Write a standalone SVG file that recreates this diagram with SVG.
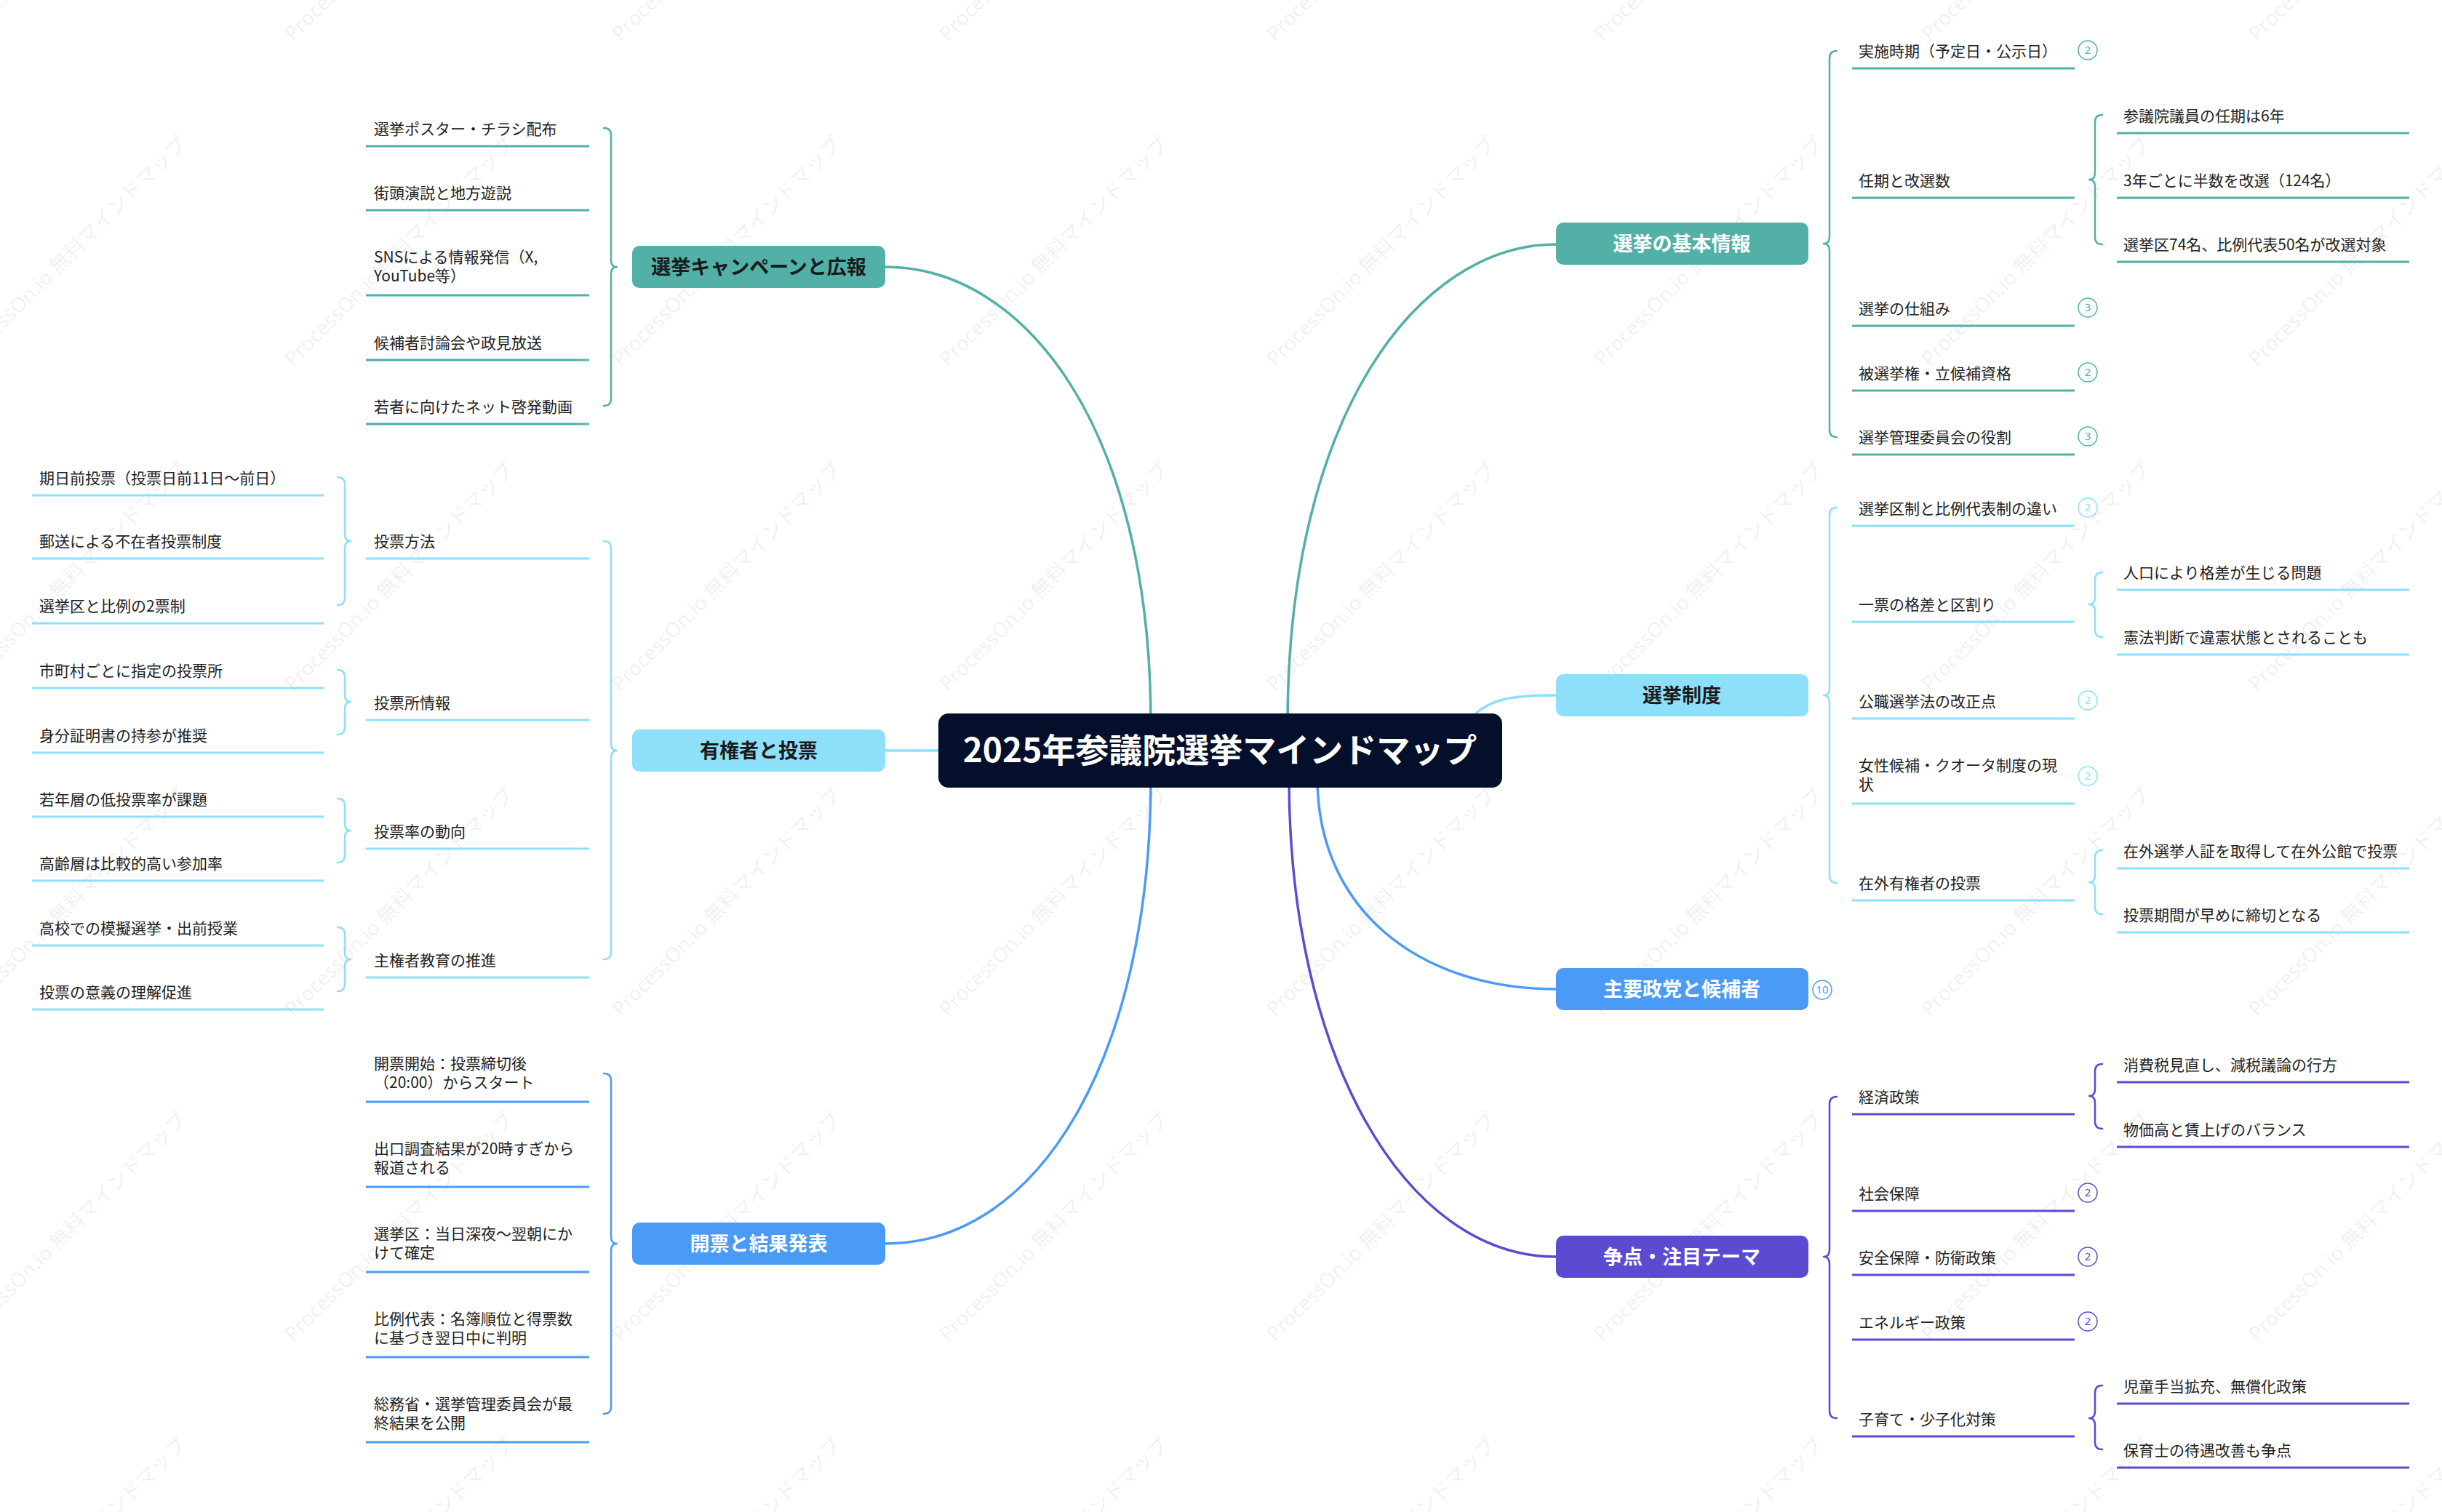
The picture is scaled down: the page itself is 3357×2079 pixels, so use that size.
<svg xmlns="http://www.w3.org/2000/svg" width="3357" height="2079" viewBox="0 0 3357 2079">
<style>
.t{font-family:"Noto Sans CJK JP","Noto Sans",sans-serif;font-size:21px;fill:#222}
.nt{font-family:"Noto Sans CJK JP","Noto Sans",sans-serif;font-size:27px;font-weight:700;text-anchor:middle}
.w{fill:#fff}.d{fill:#1a1a1a}
.wm{font-family:"Noto Sans","Noto Sans CJK JP",sans-serif;font-size:28px;fill:#888;fill-opacity:0.12}
.con{fill:none;stroke-width:3.5;stroke-linecap:round}
.br{fill:none;stroke-width:2.5;stroke-linecap:round;stroke-linejoin:round}
.ul{stroke-width:3}
.teal{stroke:#52B0A7}.lb{stroke:#8DDFFA}.bl{stroke:#4A9BF6}.pu{stroke:#5A4BD1}
.bd{fill:#fff;stroke-width:1.5}
.bn{font-family:"Noto Sans","Noto Sans CJK JP",sans-serif;font-size:15px;text-anchor:middle}
</style>
<rect x="0" y="0" width="3357" height="2079" fill="#fff"/>
<g id="watermark">
<text class="wm" x="-47" y="58" transform="rotate(-45 -47 58)">ProcessOn.io 無料マインドマップ</text>
<text class="wm" x="403" y="58" transform="rotate(-45 403 58)">ProcessOn.io 無料マインドマップ</text>
<text class="wm" x="853" y="58" transform="rotate(-45 853 58)">ProcessOn.io 無料マインドマップ</text>
<text class="wm" x="1303" y="58" transform="rotate(-45 1303 58)">ProcessOn.io 無料マインドマップ</text>
<text class="wm" x="1753" y="58" transform="rotate(-45 1753 58)">ProcessOn.io 無料マインドマップ</text>
<text class="wm" x="2203" y="58" transform="rotate(-45 2203 58)">ProcessOn.io 無料マインドマップ</text>
<text class="wm" x="2653" y="58" transform="rotate(-45 2653 58)">ProcessOn.io 無料マインドマップ</text>
<text class="wm" x="3103" y="58" transform="rotate(-45 3103 58)">ProcessOn.io 無料マインドマップ</text>
<text class="wm" x="-47" y="505" transform="rotate(-45 -47 505)">ProcessOn.io 無料マインドマップ</text>
<text class="wm" x="403" y="505" transform="rotate(-45 403 505)">ProcessOn.io 無料マインドマップ</text>
<text class="wm" x="853" y="505" transform="rotate(-45 853 505)">ProcessOn.io 無料マインドマップ</text>
<text class="wm" x="1303" y="505" transform="rotate(-45 1303 505)">ProcessOn.io 無料マインドマップ</text>
<text class="wm" x="1753" y="505" transform="rotate(-45 1753 505)">ProcessOn.io 無料マインドマップ</text>
<text class="wm" x="2203" y="505" transform="rotate(-45 2203 505)">ProcessOn.io 無料マインドマップ</text>
<text class="wm" x="2653" y="505" transform="rotate(-45 2653 505)">ProcessOn.io 無料マインドマップ</text>
<text class="wm" x="3103" y="505" transform="rotate(-45 3103 505)">ProcessOn.io 無料マインドマップ</text>
<text class="wm" x="-47" y="952" transform="rotate(-45 -47 952)">ProcessOn.io 無料マインドマップ</text>
<text class="wm" x="403" y="952" transform="rotate(-45 403 952)">ProcessOn.io 無料マインドマップ</text>
<text class="wm" x="853" y="952" transform="rotate(-45 853 952)">ProcessOn.io 無料マインドマップ</text>
<text class="wm" x="1303" y="952" transform="rotate(-45 1303 952)">ProcessOn.io 無料マインドマップ</text>
<text class="wm" x="1753" y="952" transform="rotate(-45 1753 952)">ProcessOn.io 無料マインドマップ</text>
<text class="wm" x="2203" y="952" transform="rotate(-45 2203 952)">ProcessOn.io 無料マインドマップ</text>
<text class="wm" x="2653" y="952" transform="rotate(-45 2653 952)">ProcessOn.io 無料マインドマップ</text>
<text class="wm" x="3103" y="952" transform="rotate(-45 3103 952)">ProcessOn.io 無料マインドマップ</text>
<text class="wm" x="-47" y="1399" transform="rotate(-45 -47 1399)">ProcessOn.io 無料マインドマップ</text>
<text class="wm" x="403" y="1399" transform="rotate(-45 403 1399)">ProcessOn.io 無料マインドマップ</text>
<text class="wm" x="853" y="1399" transform="rotate(-45 853 1399)">ProcessOn.io 無料マインドマップ</text>
<text class="wm" x="1303" y="1399" transform="rotate(-45 1303 1399)">ProcessOn.io 無料マインドマップ</text>
<text class="wm" x="1753" y="1399" transform="rotate(-45 1753 1399)">ProcessOn.io 無料マインドマップ</text>
<text class="wm" x="2203" y="1399" transform="rotate(-45 2203 1399)">ProcessOn.io 無料マインドマップ</text>
<text class="wm" x="2653" y="1399" transform="rotate(-45 2653 1399)">ProcessOn.io 無料マインドマップ</text>
<text class="wm" x="3103" y="1399" transform="rotate(-45 3103 1399)">ProcessOn.io 無料マインドマップ</text>
<text class="wm" x="-47" y="1846" transform="rotate(-45 -47 1846)">ProcessOn.io 無料マインドマップ</text>
<text class="wm" x="403" y="1846" transform="rotate(-45 403 1846)">ProcessOn.io 無料マインドマップ</text>
<text class="wm" x="853" y="1846" transform="rotate(-45 853 1846)">ProcessOn.io 無料マインドマップ</text>
<text class="wm" x="1303" y="1846" transform="rotate(-45 1303 1846)">ProcessOn.io 無料マインドマップ</text>
<text class="wm" x="1753" y="1846" transform="rotate(-45 1753 1846)">ProcessOn.io 無料マインドマップ</text>
<text class="wm" x="2203" y="1846" transform="rotate(-45 2203 1846)">ProcessOn.io 無料マインドマップ</text>
<text class="wm" x="2653" y="1846" transform="rotate(-45 2653 1846)">ProcessOn.io 無料マインドマップ</text>
<text class="wm" x="3103" y="1846" transform="rotate(-45 3103 1846)">ProcessOn.io 無料マインドマップ</text>
<text class="wm" x="-47" y="2293" transform="rotate(-45 -47 2293)">ProcessOn.io 無料マインドマップ</text>
<text class="wm" x="403" y="2293" transform="rotate(-45 403 2293)">ProcessOn.io 無料マインドマップ</text>
<text class="wm" x="853" y="2293" transform="rotate(-45 853 2293)">ProcessOn.io 無料マインドマップ</text>
<text class="wm" x="1303" y="2293" transform="rotate(-45 1303 2293)">ProcessOn.io 無料マインドマップ</text>
<text class="wm" x="1753" y="2293" transform="rotate(-45 1753 2293)">ProcessOn.io 無料マインドマップ</text>
<text class="wm" x="2203" y="2293" transform="rotate(-45 2203 2293)">ProcessOn.io 無料マインドマップ</text>
<text class="wm" x="2653" y="2293" transform="rotate(-45 2653 2293)">ProcessOn.io 無料マインドマップ</text>
<text class="wm" x="3103" y="2293" transform="rotate(-45 3103 2293)">ProcessOn.io 無料マインドマップ</text>
</g>
<g id="connectors">
<path class="con teal" d="M 1217 367 C 1410 367, 1582 590, 1582 995"/>
<path class="con lb" d="M 1217 1032 L 1300 1032"/>
<path class="con bl" d="M 1217 1710 C 1430 1710, 1582 1450, 1582 1070"/>
<path class="con teal" d="M 2139 336 C 1950 336, 1770 570, 1770 995"/>
<path class="con lb" d="M 2139 956 C 2080 956, 2045 960, 2020 990"/>
<path class="con bl" d="M 2139 1360 C 1950 1360, 1811 1250, 1811 1070"/>
<path class="con pu" d="M 2139 1728 C 1930 1728, 1772 1450, 1772 1070"/>
<path class="br teal" d="M 2525 70 Q 2515 70 2515 80 L 2515 325 Q 2515 335 2507 335 Q 2515 335 2515 345 L 2515 591 Q 2515 601 2525 601"/>
<path class="br lb" d="M 2525 698 Q 2515 698 2515 708 L 2515 946 Q 2515 956 2507 956 Q 2515 956 2515 966 L 2515 1204 Q 2515 1214 2525 1214"/>
<path class="br pu" d="M 2525 1508 Q 2515 1508 2515 1518 L 2515 1718 Q 2515 1728 2507 1728 Q 2515 1728 2515 1738 L 2515 1940 Q 2515 1950 2525 1950"/>
<path class="br teal" d="M 2890 158 Q 2880 158 2880 168 L 2880 237 Q 2880 247 2872 247 Q 2880 247 2880 257 L 2880 326 Q 2880 336 2890 336"/>
<path class="br lb" d="M 2890 787 Q 2880 787 2880 797 L 2880 821 Q 2880 831 2872 831 Q 2880 831 2880 841 L 2880 866 Q 2880 876 2890 876"/>
<path class="br lb" d="M 2890 1169 Q 2880 1169 2880 1179 L 2880 1203 Q 2880 1213 2872 1213 Q 2880 1213 2880 1223 L 2880 1247 Q 2880 1257 2890 1257"/>
<path class="br pu" d="M 2890 1463 Q 2880 1463 2880 1473 L 2880 1497 Q 2880 1507 2872 1507 Q 2880 1507 2880 1517 L 2880 1542 Q 2880 1552 2890 1552"/>
<path class="br pu" d="M 2890 1905 Q 2880 1905 2880 1915 L 2880 1940 Q 2880 1950 2872 1950 Q 2880 1950 2880 1960 L 2880 1983 Q 2880 1993 2890 1993"/>
<path class="br teal" d="M 830 176 Q 840 176 840 186 L 840 357 Q 840 367 848 367 Q 840 367 840 377 L 840 548 Q 840 558 830 558"/>
<path class="br lb" d="M 830 744 Q 840 744 840 754 L 840 1022 Q 840 1032 848 1032 Q 840 1032 840 1042 L 840 1309 Q 840 1319 830 1319"/>
<path class="br bl" d="M 830 1476 Q 840 1476 840 1486 L 840 1700 Q 840 1710 848 1710 Q 840 1710 840 1720 L 840 1934 Q 840 1944 830 1944"/>
<path class="br lb" d="M 464 656 Q 474 656 474 666 L 474 734 Q 474 744 482 744 Q 474 744 474 754 L 474 822 Q 474 832 464 832"/>
<path class="br lb" d="M 464 921 Q 474 921 474 931 L 474 955 Q 474 965 482 965 Q 474 965 474 975 L 474 1000 Q 474 1010 464 1010"/>
<path class="br lb" d="M 464 1098 Q 474 1098 474 1108 L 474 1132 Q 474 1142 482 1142 Q 474 1142 474 1152 L 474 1176 Q 474 1186 464 1186"/>
<path class="br lb" d="M 464 1275 Q 474 1275 474 1285 L 474 1309 Q 474 1319 482 1319 Q 474 1319 474 1329 L 474 1353 Q 474 1363 464 1363"/>
</g>
<g id="n-root"><rect x="1290" y="981" width="775" height="102" rx="14" fill="#040F2C"/><text x="1677" y="1048" font-family="'Noto Sans CJK JP','Noto Sans',sans-serif" font-size="46" font-weight="700" fill="#fff" text-anchor="middle">2025年参議院選挙マインドマップ</text></g>
<g id="n-kihon"><rect x="2139" y="306" width="347" height="58" rx="10" fill="#52B0A7"/><text class="nt w" x="2312" y="345">選挙の基本情報</text></g>
<g id="n-kihon-1"><text class="t" x="2555" y="78">実施時期（予定日・公示日）</text><line class="ul teal" x1="2546" y1="94" x2="2852" y2="94"/><circle class="bd teal" cx="2870" cy="69" r="13"/><text class="bn" x="2870" y="74" fill="#52B0A7">2</text></g>
<g id="n-kihon-2"><text class="t" x="2555" y="256">任期と改選数</text><line class="ul teal" x1="2546" y1="272" x2="2852" y2="272"/></g>
<g id="n-kihon-2-1"><text class="t" x="2919" y="167">参議院議員の任期は6年</text><line class="ul teal" x1="2910" y1="183" x2="3312" y2="183"/></g>
<g id="n-kihon-2-2"><text class="t" x="2919" y="256">3年ごとに半数を改選（124名）</text><line class="ul teal" x1="2910" y1="272" x2="3312" y2="272"/></g>
<g id="n-kihon-2-3"><text class="t" x="2919" y="344">選挙区74名、比例代表50名が改選対象</text><line class="ul teal" x1="2910" y1="360" x2="3312" y2="360"/></g>
<g id="n-kihon-3"><text class="t" x="2555" y="432">選挙の仕組み</text><line class="ul teal" x1="2546" y1="448" x2="2852" y2="448"/><circle class="bd teal" cx="2870" cy="423" r="13"/><text class="bn" x="2870" y="428" fill="#52B0A7">3</text></g>
<g id="n-kihon-4"><text class="t" x="2555" y="521">被選挙権・立候補資格</text><line class="ul teal" x1="2546" y1="537" x2="2852" y2="537"/><circle class="bd teal" cx="2870" cy="512" r="13"/><text class="bn" x="2870" y="517" fill="#52B0A7">2</text></g>
<g id="n-kihon-5"><text class="t" x="2555" y="609">選挙管理委員会の役割</text><line class="ul teal" x1="2546" y1="625" x2="2852" y2="625"/><circle class="bd teal" cx="2870" cy="600" r="13"/><text class="bn" x="2870" y="605" fill="#52B0A7">3</text></g>
<g id="n-seido"><rect x="2139" y="927" width="347" height="58" rx="10" fill="#8DDFFA"/><text class="nt d" x="2312" y="966">選挙制度</text></g>
<g id="n-seido-1"><text class="t" x="2555" y="707">選挙区制と比例代表制の違い</text><line class="ul lb" x1="2546" y1="723" x2="2852" y2="723"/><circle class="bd lb" cx="2870" cy="698" r="13"/><text class="bn" x="2870" y="703" fill="#8DDFFA">2</text></g>
<g id="n-seido-2"><text class="t" x="2555" y="839">一票の格差と区割り</text><line class="ul lb" x1="2546" y1="855" x2="2852" y2="855"/></g>
<g id="n-seido-2-1"><text class="t" x="2919" y="795">人口により格差が生じる問題</text><line class="ul lb" x1="2910" y1="811" x2="3312" y2="811"/></g>
<g id="n-seido-2-2"><text class="t" x="2919" y="884">憲法判断で違憲状態とされることも</text><line class="ul lb" x1="2910" y1="900" x2="3312" y2="900"/></g>
<g id="n-seido-3"><text class="t" x="2555" y="972">公職選挙法の改正点</text><line class="ul lb" x1="2546" y1="988" x2="2852" y2="988"/><circle class="bd lb" cx="2870" cy="963" r="13"/><text class="bn" x="2870" y="968" fill="#8DDFFA">2</text></g>
<g id="n-seido-4"><text class="t" x="2555" y="1060">女性候補・クオータ制度の現</text><text class="t" x="2555" y="1086">状</text><line class="ul lb" x1="2546" y1="1105" x2="2852" y2="1105"/><circle class="bd lb" cx="2870" cy="1067" r="13"/><text class="bn" x="2870" y="1072" fill="#8DDFFA">2</text></g>
<g id="n-seido-5"><text class="t" x="2555" y="1222">在外有権者の投票</text><line class="ul lb" x1="2546" y1="1238" x2="2852" y2="1238"/></g>
<g id="n-seido-5-1"><text class="t" x="2919" y="1178">在外選挙人証を取得して在外公館で投票</text><line class="ul lb" x1="2910" y1="1194" x2="3312" y2="1194"/></g>
<g id="n-seido-5-2"><text class="t" x="2919" y="1266">投票期間が早めに締切となる</text><line class="ul lb" x1="2910" y1="1282" x2="3312" y2="1282"/></g>
<g id="n-seito"><rect x="2139" y="1331" width="347" height="58" rx="10" fill="#4A9BF6"/><text class="nt w" x="2312" y="1370">主要政党と候補者</text><circle class="bd bl" cx="2505" cy="1361" r="13"/><text class="bn" x="2505" y="1366" fill="#4A9BF6">10</text></g>
<g id="n-soten"><rect x="2139" y="1699" width="347" height="58" rx="10" fill="#5A4BD1"/><text class="nt w" x="2312" y="1738">争点・注目テーマ</text></g>
<g id="n-soten-1"><text class="t" x="2555" y="1516">経済政策</text><line class="ul pu" x1="2546" y1="1532" x2="2852" y2="1532"/></g>
<g id="n-soten-1-1"><text class="t" x="2919" y="1472">消費税見直し、減税議論の行方</text><line class="ul pu" x1="2910" y1="1488" x2="3312" y2="1488"/></g>
<g id="n-soten-1-2"><text class="t" x="2919" y="1561">物価高と賃上げのバランス</text><line class="ul pu" x1="2910" y1="1577" x2="3312" y2="1577"/></g>
<g id="n-soten-2"><text class="t" x="2555" y="1649">社会保障</text><line class="ul pu" x1="2546" y1="1665" x2="2852" y2="1665"/><circle class="bd pu" cx="2870" cy="1640" r="13"/><text class="bn" x="2870" y="1645" fill="#5A4BD1">2</text></g>
<g id="n-soten-3"><text class="t" x="2555" y="1737">安全保障・防衛政策</text><line class="ul pu" x1="2546" y1="1753" x2="2852" y2="1753"/><circle class="bd pu" cx="2870" cy="1728" r="13"/><text class="bn" x="2870" y="1733" fill="#5A4BD1">2</text></g>
<g id="n-soten-4"><text class="t" x="2555" y="1826">エネルギー政策</text><line class="ul pu" x1="2546" y1="1842" x2="2852" y2="1842"/><circle class="bd pu" cx="2870" cy="1817" r="13"/><text class="bn" x="2870" y="1822" fill="#5A4BD1">2</text></g>
<g id="n-soten-5"><text class="t" x="2555" y="1959">子育て・少子化対策</text><line class="ul pu" x1="2546" y1="1975" x2="2852" y2="1975"/></g>
<g id="n-soten-5-1"><text class="t" x="2919" y="1914">児童手当拡充、無償化政策</text><line class="ul pu" x1="2910" y1="1930" x2="3312" y2="1930"/></g>
<g id="n-soten-5-2"><text class="t" x="2919" y="2002">保育士の待遇改善も争点</text><line class="ul pu" x1="2910" y1="2018" x2="3312" y2="2018"/></g>
<g id="n-camp"><rect x="869" y="338" width="348" height="58" rx="10" fill="#52B0A7"/><text class="nt d" x="1043" y="377">選挙キャンペーンと広報</text></g>
<g id="n-camp-1"><text class="t" x="514" y="185">選挙ポスター・チラシ配布</text><line class="ul teal" x1="503" y1="201" x2="810" y2="201"/></g>
<g id="n-camp-2"><text class="t" x="514" y="273">街頭演説と地方遊説</text><line class="ul teal" x1="503" y1="289" x2="810" y2="289"/></g>
<g id="n-camp-3"><text class="t" x="514" y="361">SNSによる情報発信（X,</text><text class="t" x="514" y="387">YouTube等）</text><line class="ul teal" x1="503" y1="406" x2="810" y2="406"/></g>
<g id="n-camp-4"><text class="t" x="514" y="479">候補者討論会や政見放送</text><line class="ul teal" x1="503" y1="495" x2="810" y2="495"/></g>
<g id="n-camp-5"><text class="t" x="514" y="567">若者に向けたネット啓発動画</text><line class="ul teal" x1="503" y1="583" x2="810" y2="583"/></g>
<g id="n-vote"><rect x="869" y="1003" width="348" height="58" rx="10" fill="#8DDFFA"/><text class="nt d" x="1043" y="1042">有権者と投票</text></g>
<g id="n-vote-1"><text class="t" x="514" y="752">投票方法</text><line class="ul lb" x1="503" y1="768" x2="810" y2="768"/></g>
<g id="n-vote-1-1"><text class="t" x="54" y="665">期日前投票（投票日前11日～前日）</text><line class="ul lb" x1="44" y1="681" x2="445" y2="681"/></g>
<g id="n-vote-1-2"><text class="t" x="54" y="752">郵送による不在者投票制度</text><line class="ul lb" x1="44" y1="768" x2="445" y2="768"/></g>
<g id="n-vote-1-3"><text class="t" x="54" y="841">選挙区と比例の2票制</text><line class="ul lb" x1="44" y1="857" x2="445" y2="857"/></g>
<g id="n-vote-2"><text class="t" x="514" y="974">投票所情報</text><line class="ul lb" x1="503" y1="990" x2="810" y2="990"/></g>
<g id="n-vote-2-1"><text class="t" x="54" y="930">市町村ごとに指定の投票所</text><line class="ul lb" x1="44" y1="946" x2="445" y2="946"/></g>
<g id="n-vote-2-2"><text class="t" x="54" y="1019">身分証明書の持参が推奨</text><line class="ul lb" x1="44" y1="1035" x2="445" y2="1035"/></g>
<g id="n-vote-3"><text class="t" x="514" y="1151">投票率の動向</text><line class="ul lb" x1="503" y1="1167" x2="810" y2="1167"/></g>
<g id="n-vote-3-1"><text class="t" x="54" y="1107">若年層の低投票率が課題</text><line class="ul lb" x1="44" y1="1123" x2="445" y2="1123"/></g>
<g id="n-vote-3-2"><text class="t" x="54" y="1195">高齢層は比較的高い参加率</text><line class="ul lb" x1="44" y1="1211" x2="445" y2="1211"/></g>
<g id="n-vote-4"><text class="t" x="514" y="1328">主権者教育の推進</text><line class="ul lb" x1="503" y1="1344" x2="810" y2="1344"/></g>
<g id="n-vote-4-1"><text class="t" x="54" y="1284">高校での模擬選挙・出前授業</text><line class="ul lb" x1="44" y1="1300" x2="445" y2="1300"/></g>
<g id="n-vote-4-2"><text class="t" x="54" y="1372">投票の意義の理解促進</text><line class="ul lb" x1="44" y1="1388" x2="445" y2="1388"/></g>
<g id="n-count"><rect x="869" y="1681" width="348" height="58" rx="10" fill="#4A9BF6"/><text class="nt w" x="1043" y="1720">開票と結果発表</text></g>
<g id="n-count-1"><text class="t" x="514" y="1470">開票開始：投票締切後</text><text class="t" x="514" y="1496">（20:00）からスタート</text><line class="ul bl" x1="503" y1="1515" x2="810" y2="1515"/></g>
<g id="n-count-2"><text class="t" x="514" y="1587">出口調査結果が20時すぎから</text><text class="t" x="514" y="1613">報道される</text><line class="ul bl" x1="503" y1="1632" x2="810" y2="1632"/></g>
<g id="n-count-3"><text class="t" x="514" y="1704">選挙区：当日深夜～翌朝にか</text><text class="t" x="514" y="1730">けて確定</text><line class="ul bl" x1="503" y1="1749" x2="810" y2="1749"/></g>
<g id="n-count-4"><text class="t" x="514" y="1821">比例代表：名簿順位と得票数</text><text class="t" x="514" y="1847">に基づき翌日中に判明</text><line class="ul bl" x1="503" y1="1866" x2="810" y2="1866"/></g>
<g id="n-count-5"><text class="t" x="514" y="1938">総務省・選挙管理委員会が最</text><text class="t" x="514" y="1964">終結果を公開</text><line class="ul bl" x1="503" y1="1983" x2="810" y2="1983"/></g>
</svg>
